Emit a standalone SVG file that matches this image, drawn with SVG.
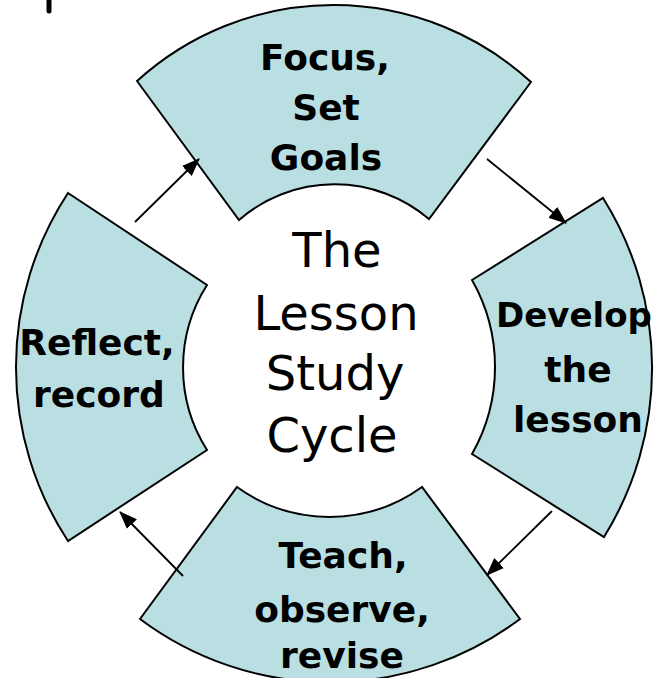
<svg xmlns="http://www.w3.org/2000/svg" width="654" height="678" viewBox="0 0 654 678">
  <style>
    .seg { fill: #B9DFE3; stroke: #000; stroke-width: 2; stroke-linejoin: miter; }
    .lbl { font-family: "DejaVu Sans", "Liberation Sans", sans-serif; font-weight: bold; font-size: 36px; fill: #000; text-anchor: middle; }
    .title { font-family: "DejaVu Sans", "Liberation Sans", sans-serif; font-size: 48px; fill: #000; text-anchor: middle; }
    .conn { stroke: #000; stroke-width: 1.8; fill: none; marker-end: url(#arrow); }
  </style>
  <defs>
    <marker id="arrow" markerUnits="userSpaceOnUse" markerWidth="18" markerHeight="14" refX="17" refY="7" orient="auto">
      <path d="M0,0 L18,7 L0,14 Z" fill="#000"/>
    </marker>
  </defs>
  <rect width="654" height="678" fill="#fff"/>
  <line x1="49" y1="0" x2="49" y2="11" stroke="#000" stroke-width="5" stroke-linecap="round"/>

  <g id="node-focus">
    <path class="seg" d="M137,81 A292,292 0 0 1 531,82 L429,219 A146,146 0 0 0 239,220 Z"/>
    <text class="lbl" x="325" y="70">Focus,</text>
    <text class="lbl" x="326" y="120">Set</text>
    <text class="lbl" x="326" y="170">Goals</text>
  </g>

  <g id="node-develop">
    <path class="seg" d="M603,198 A320,320 0 0 1 604,537 L472,454 A176,176 0 0 0 472,280 Z"/>
    <text class="lbl" x="574" y="327" style="font-size:34px">Develop</text>
    <text class="lbl" x="578" y="382">the</text>
    <text class="lbl" x="578" y="432">lesson</text>
  </g>

  <g id="node-teach">
    <path class="seg" d="M237,487 A158,158 0 0 0 422,487 L520,619 A317,317 0 0 1 140,619 Z"/>
    <text class="lbl" x="343" y="568">Teach,</text>
    <text class="lbl" x="342" y="622">observe,</text>
    <text class="lbl" x="342" y="668">revise</text>
  </g>

  <g id="node-reflect">
    <path class="seg" d="M68,193 L207,285 A154,154 0 0 0 207,450 L68,541 A317,317 0 0 1 68,193 Z"/>
    <text class="lbl" x="97" y="355">Reflect,</text>
    <text class="lbl" x="99" y="407">record</text>
  </g>

  <g id="node-center">
    <text class="title" x="337" y="267">The</text>
    <text class="title" x="336" y="330">Lesson</text>
    <text class="title" x="335" y="390">Study</text>
    <text class="title" x="332" y="452">Cycle</text>
  </g>

  <g id="connectors">
    <line class="conn" x1="135" y1="222" x2="199" y2="159"/>
    <line class="conn" x1="487" y1="159" x2="566" y2="223"/>
    <line class="conn" x1="552" y1="511" x2="487" y2="575"/>
    <line class="conn" x1="183" y1="576" x2="120" y2="512"/>
  </g>
</svg>
